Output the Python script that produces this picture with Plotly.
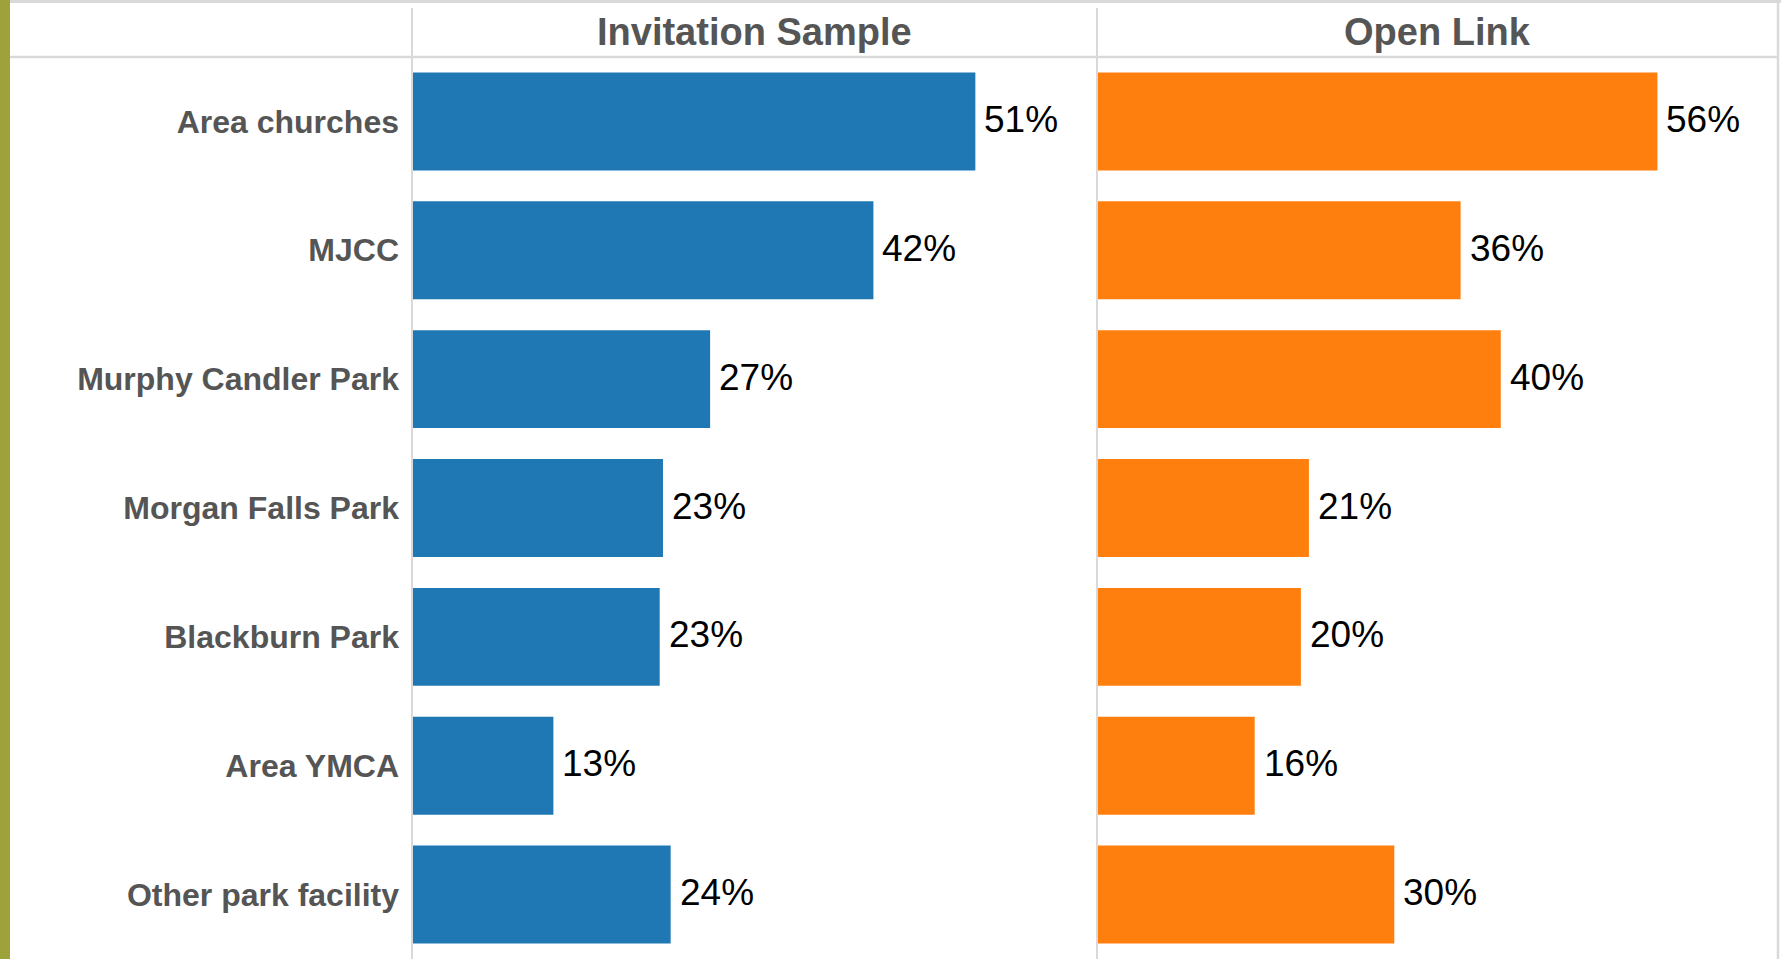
import plotly.graph_objects as go

categories = ["Area churches", "MJCC", "Murphy Candler Park", "Morgan Falls Park",
              "Blackburn Park", "Area YMCA", "Other park facility"]
invitation = [51.4, 42.1, 27.2, 22.9, 22.6, 12.9, 23.6]
open_link = [55.8, 36.2, 40.2, 21.1, 20.3, 15.7, 29.6]
panel_titles = ["Invitation Sample", "Open Link"]

W, H = 1781, 959
FONT = "Liberation Sans, Arial, sans-serif"
GRID = "#d9d9d9"
LABEL_GRAY = "#555555"

def px(x):
    return x / W

def py(y):
    return 1 - y / H

x1_dom = [px(412), px(1097)]
x2_dom = [px(1097), px(1778)]
y_dom = [0, py(57)]

fig = go.Figure()
fig.add_trace(go.Bar(y=categories, x=invitation, orientation="h", xaxis="x", yaxis="y",
                     marker=dict(color="#1f77b4", line=dict(width=0)), width=0.76,
                     hoverinfo="x+y"))
fig.add_trace(go.Bar(y=categories, x=open_link, orientation="h", xaxis="x2", yaxis="y2",
                     marker=dict(color="#ff7f0e", line=dict(width=0)), width=0.76,
                     hoverinfo="x+y"))

annotations = []
for vals, xr, yr in [(invitation, "x", "y"), (open_link, "x2", "y2")]:
    for c, v in zip(categories, vals):
        annotations.append(dict(x=v, y=c, xref=xr, yref=yr, text=f"{round(v)}%",
                                showarrow=False, xanchor="left", yanchor="middle",
                                xshift=7, yshift=2,
                                font=dict(family=FONT, size=37, color="#000000")))

for title, dom in zip(panel_titles, [x1_dom, x2_dom]):
    annotations.append(dict(x=(dom[0] + dom[1]) / 2, y=py(32), xref="paper", yref="paper",
                            text=title, showarrow=False, xanchor="center", yanchor="middle",
                            font=dict(family=FONT, size=38, color=LABEL_GRAY, weight="bold")))

shapes = [
    dict(type="rect", xref="paper", yref="paper", x0=0, x1=px(10), y0=0, y1=1,
         fillcolor="#9da23b", line=dict(width=0), layer="above"),
    dict(type="line", xref="paper", yref="paper", x0=px(10), x1=1, y0=py(1.5), y1=py(1.5),
         line=dict(color=GRID, width=3)),
    dict(type="line", xref="paper", yref="paper", x0=px(10), x1=px(1778), y0=py(57), y1=py(57),
         line=dict(color=GRID, width=2.5)),
    dict(type="line", xref="paper", yref="paper", x0=px(412), x1=px(412), y0=0, y1=py(8),
         line=dict(color=GRID, width=2)),
    dict(type="line", xref="paper", yref="paper", x0=px(1097), x1=px(1097), y0=0, y1=py(8),
         line=dict(color=GRID, width=2)),
    dict(type="line", xref="paper", yref="paper", x0=px(1778), x1=px(1778), y0=0, y1=1,
         line=dict(color=GRID, width=2.5)),
]

axis_common = dict(showgrid=False, zeroline=False, showticklabels=False, ticks="",
                   showline=False, fixedrange=True)
fig.update_layout(
    width=W, height=H,
    margin=dict(l=0, r=0, t=0, b=0),
    paper_bgcolor="white", plot_bgcolor="white",
    showlegend=False,
    bargap=0.24,
    xaxis=dict(domain=x1_dom, range=[0, 62.5], anchor="y", **axis_common),
    xaxis2=dict(domain=x2_dom, range=[0, 67.8], anchor="y2", **axis_common),
    yaxis=dict(domain=y_dom, anchor="x", categoryorder="array", categoryarray=categories,
               autorange="reversed", showgrid=False, zeroline=False, showline=False,
               ticks="", ticklabelstandoff=12,
               tickfont=dict(family=FONT, size=32, color=LABEL_GRAY, weight="bold")),
    yaxis2=dict(domain=y_dom, anchor="x2", categoryorder="array", categoryarray=categories,
                autorange="reversed", showgrid=False, zeroline=False, showline=False,
                showticklabels=False, ticks=""),
    annotations=annotations,
    shapes=shapes,
)

fig.write_html(
    "out.html",
    config={"displayModeBar": False},
    post_script="document.body.style.margin='0';document.body.style.overflow='hidden';",
)
